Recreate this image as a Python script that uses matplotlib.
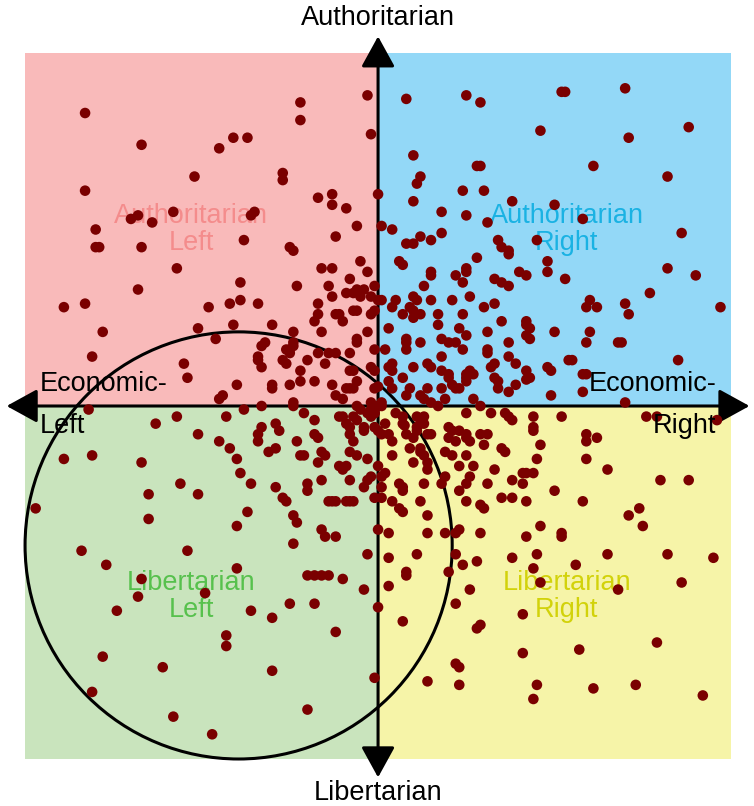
import matplotlib

matplotlib.use("Agg")
import matplotlib.pyplot as plt
from matplotlib.patches import Rectangle, Circle, FancyArrowPatch

plt.rcParams["font.family"] = ["Liberation Sans", "DejaVu Sans"]

# ---------------------------------------------------------------------------
# Data: (economic, social) scores, -10..10
# ---------------------------------------------------------------------------
auth_left = [
    (-8.3, 8.3), (-6.7, 7.4), (-5.2, 6.5), (-8.3, 6.1), (-7.0, 5.3), (-6.8, 5.4), (-6.4, 5.2),
    (-5.8, 5.5), (-8.0, 5.0), (-8.0, 4.5), (-7.9, 4.5), (-6.7, 4.5), (-5.7, 3.9), (-6.8, 3.3),
    (-0.3, 8.8), (-2.2, 8.6), (-2.2, 8.1), (-4.1, 7.6), (-3.7, 7.6), (-4.5, 7.3), (-0.2, 7.7),
    (-2.7, 6.6), (-2.7, 6.4), (0.0, 6.0), (-1.7, 5.9), (-1.3, 6.0), (-1.3, 5.7), (-0.9, 5.6),
    (0.1, 5.1), (-0.6, 5.1), (-3.6, 5.4), (-3.5, 5.5), (-3.8, 4.7), (-1.2, 4.8), (-2.5, 4.5),
    (-2.4, 4.4), (-0.5, 4.1), (-0.3, 3.8), (-1.6, 3.9), (-1.3, 3.9), (-0.8, 3.6), (-3.9, 3.5),
    (-0.1, 3.4), (-2.3, 3.4), (-1.4, 3.4), (-0.6, 3.3), (-0.4, 3.3),
    (-8.9, 2.8), (-8.3, 2.9), (-7.8, 2.1), (-5.1, 2.2), (-8.1, 1.4), (-5.5, 1.2), (-5.4, 0.8),
    (-0.9, 3.2), (-0.7, 3.2), (-0.5, 3.1), (-0.2, 3.1), (-4.8, 2.8), (-4.2, 2.9), (-3.9, 3.0),
    (-3.4, 2.9), (-1.7, 2.9), (-1.3, 3.1), (0.0, 3.0), (-1.7, 2.6), (-1.8, 2.4), (-1.2, 2.6),
    (-1.1, 2.6), (-1.0, 2.4), (-0.7, 2.7), (-0.6, 2.7), (-0.1, 2.7), (-0.2, 2.6), (-4.1, 2.3),
    (-3.0, 2.3), (-1.6, 2.1), (-0.3, 2.1), (-4.6, 1.9), (-3.2, 1.8), (-3.3, 1.7), (-2.4, 2.1),
    (-2.6, 1.6), (-2.5, 1.6), (-2.4, 1.7), (-2.5, 1.5), (-2.4, 1.8), (-0.6, 1.9), (-0.6, 1.8),
    (-0.1, 1.6), (-1.7, 1.5), (-1.4, 1.5), (-1.2, 1.5), (-0.8, 1.5), (-3.4, 1.4), (-3.4, 1.3),
    (-2.0, 1.3), (-2.7, 1.3), (-2.6, 1.2), (-1.5, 1.2), (-3.3, 1.1), (-2.2, 1.0), (-0.8, 1.0),
    (-0.7, 1.0), (-0.2, 1.1), (-0.1, 1.0), (-2.2, 0.7), (-4.0, 0.6), (-1.8, 0.7), (-1.3, 0.6),
    (-0.6, 0.7), (-2.5, 0.6), (-3.0, 0.6), (-3.0, 0.5), (-0.9, 0.5), (-0.8, 0.5), (-0.7, 0.5),
    (-0.1, 0.5), (0.0, 0.55), (-1.2, 0.3), (-1.0, 0.2), (-4.5, 0.2), (-4.4, 0.3), (-2.4, 0.1),
    (-0.2, 0.1), (-2.4, 0.0), (-0.6, 0.0), (0.0, 0.0), (0.1, 0.0), (-3.3, 0.0),
]

lib_left = [
    (-8.2, -0.1), (-6.3, -0.5), (-5.7, -0.3), (-5.1, -0.8), (-8.9, -1.5), (-8.1, -1.4),
    (-6.7, -1.6), (-5.6, -2.2), (-6.5, -2.5), (-5.1, -2.5), (-9.7, -2.9), (-6.5, -3.2),
    (-0.5, -0.1), (-3.8, -0.1), (-2.1, -0.2), (-4.3, -0.3), (-1.1, -0.3), (-1.0, -0.3),
    (-0.7, -0.3), (-0.6, -0.4), (-0.3, -0.2), (-0.2, -0.3), (-0.1, -0.2), (-3.3, -0.6),
    (-3.4, -0.8), (-2.9, -0.5), (-1.8, -0.4), (-0.9, -0.5), (-0.8, -0.6), (-0.8, -0.8),
    (-0.4, -0.6), (-0.4, -0.7), (-0.1, -0.6), (0.0, -0.7), (0.1, -0.8), (-4.5, -1.0),
    (-2.8, -0.7), (-1.8, -0.8), (-1.7, -0.9), (-3.4, -1.0), (-2.3, -1.0), (-0.7, -1.0),
    (-4.2, -1.2), (-2.9, -1.2), (-3.1, -1.3), (-2.2, -1.4), (-2.1, -1.4), (-1.6, -1.3),
    (-1.5, -1.4), (-0.8, -1.3), (-0.6, -1.4), (-0.3, -1.5), (-1.7, -1.6), (-4.0, -1.5),
    (-1.1, -1.7), (-1.0, -1.8), (-0.9, -1.7), (0.0, -1.7), (-3.9, -1.9), (-1.6, -2.1),
    (-0.8, -2.1), (-0.2, -2.0), (-0.3, -2.1), (-0.4, -2.3), (0.1, -2.0), (0.2, -1.9),
    (-3.6, -2.2), (-2.9, -2.3), (-2.0, -2.2), (-2.0, -2.4), (0.1, -2.3), (-2.7, -2.6),
    (-2.6, -2.7), (-1.4, -2.7), (-1.3, -2.7), (-1.2, -2.7), (-0.9, -2.7), (-0.8, -2.7),
    (-0.7, -2.7), (-0.1, -2.6), (0.1, -2.6), (-3.7, -3.0), (-2.4, -3.1), (-2.3, -3.3),
    (-4.0, -3.4), (-1.6, -3.5), (0.0, -3.5),
    (-8.4, -4.1), (-7.7, -4.5), (-5.4, -4.1), (-6.7, -4.9), (-6.8, -5.4), (-7.4, -5.8),
    (-7.8, -7.1), (-6.1, -7.4), (-8.1, -8.1), (-5.8, -8.8),
    (-1.5, -3.7), (-1.2, -3.7), (-2.4, -3.9), (-0.3, -4.2), (-4.0, -4.6), (-2.0, -4.8),
    (-1.8, -4.8), (-1.6, -4.8), (-1.4, -4.8), (-1.0, -4.9), (-0.4, -5.2), (-4.9, -5.3),
    (-2.5, -5.6), (-1.8, -5.6), (-3.6, -5.8), (-3.0, -6.0), (0.0, -5.7), (-1.2, -6.4),
    (-4.3, -6.5), (-4.3, -6.8), (-3.0, -7.5), (-0.1, -7.7), (-2.0, -8.6), (-4.7, -9.3),
]

auth_right = [
    (0.8, 8.7), (2.5, 8.8), (2.9, 8.6), (5.2, 8.9), (5.3, 8.9), (4.6, 7.8), (1.0, 7.1),
    (1.2, 6.5), (1.1, 6.3), (2.8, 6.8), (2.9, 6.8), (2.4, 6.1), (3.0, 6.1), (1.0, 5.8),
    (3.8, 5.8), (5.0, 5.7), (1.8, 5.5), (2.5, 5.4), (0.4, 5.0), (3.1, 5.2), (0.8, 4.6),
    (1.0, 4.6), (1.2, 4.8), (1.5, 4.7), (1.8, 4.9), (3.4, 4.7), (3.5, 4.5), (3.7, 4.4),
    (3.7, 4.3), (4.5, 4.7), (0.6, 4.1), (0.7, 4.0), (2.8, 4.2), (2.5, 3.9), (2.5, 3.8),
    (1.5, 3.7), (1.5, 3.8), (2.2, 3.7), (2.4, 3.5), (1.3, 3.4), (4.0, 3.8), (4.2, 3.7),
    (4.8, 4.1), (4.8, 3.8), (5.3, 3.6), (3.3, 3.6), (3.5, 3.5), (3.7, 3.4),
    (7.0, 9.0), (8.8, 7.9), (7.1, 7.6), (6.1, 6.8), (8.2, 6.5), (5.8, 5.3), (8.6, 4.9),
    (8.2, 3.9), (9.0, 3.7),
    (0.1, 3.0), (0.5, 3.0), (0.4, 2.8), (1.0, 3.1), (1.1, 3.0), (0.9, 2.8), (1.0, 2.7),
    (1.5, 3.0), (2.1, 3.0), (2.6, 3.1), (3.0, 2.8), (3.3, 2.9), (0.7, 2.6), (1.2, 2.6),
    (1.0, 2.5), (1.7, 2.6), (2.4, 2.6), (3.5, 2.4), (4.2, 2.4), (4.2, 2.3), (4.3, 2.2),
    (4.2, 2.0), (4.3, 1.9), (5.0, 2.1), (0.3, 2.2), (1.7, 2.3), (2.3, 2.2), (3.1, 2.1),
    (0.8, 1.9), (0.8, 1.8), (1.2, 1.8), (1.8, 1.9), (2.5, 2.0), (2.0, 1.8), (2.2, 1.8),
    (3.7, 1.8), (0.2, 1.6), (0.8, 1.6), (2.4, 1.6), (3.1, 1.6), (3.1, 1.5), (3.7, 1.4),
    (1.8, 1.4), (0.4, 1.2), (0.3, 1.1), (0.4, 1.0), (1.0, 1.1), (1.4, 1.2), (1.5, 1.1),
    (3.2, 1.1), (3.3, 1.2), (3.9, 1.2), (4.2, 1.0), (4.3, 0.8), (4.2, 0.75), (4.8, 1.1),
    (4.9, 1.0), (5.4, 1.3), (1.8, 1.0), (2.0, 0.9), (2.0, 0.8), (2.5, 0.9), (2.5, 0.8),
    (2.6, 1.0), (2.7, 0.9), (2.5, 0.7), (0.7, 0.8), (3.3, 0.8), (3.4, 0.7), (3.4, 0.5),
    (0.3, 0.7), (0.4, 0.5), (0.9, 0.5), (1.4, 0.5), (1.8, 0.5), (2.1, 0.6), (2.2, 0.5),
    (2.3, 0.5), (3.9, 0.6), (3.7, 0.4), (0.8, 0.3), (1.2, 0.3), (1.3, 0.2), (1.9, 0.2),
    (1.5, 0.1), (1.7, 0.0), (2.7, 0.2), (4.9, 0.3), (0.1, 0.1),
    (7.7, 3.2), (6.0, 3.0), (5.9, 2.8), (6.2, 2.8), (7.0, 2.9), (7.1, 2.6), (9.7, 2.8),
    (6.0, 2.1), (5.9, 1.8), (6.8, 1.8), (6.9, 1.8), (5.5, 1.3), (8.5, 1.3), (5.8, 0.9),
    (5.9, 0.9), (5.8, 0.4), (7.0, 0.1),
]

lib_right = [
    (2.9, 0.0), (-0.2, -0.1), (-0.1, -0.2), (0.5, -0.2), (2.5, -0.2), (3.2, -0.2), (3.6, -0.2),
    (3.7, -0.3), (3.8, -0.4), (4.4, -0.3), (5.2, -0.3), (0.7, -0.3), (0.7, -0.5), (1.1, -0.3),
    (1.3, -0.3), (1.2, -0.5), (1.3, -0.5), (0.2, -0.5), (0.75, -0.55), (1.1, -0.6), (1.1, -0.7),
    (2.0, -0.6), (2.1, -0.7), (2.0, -0.9), (2.3, -0.7), (1.4, -0.8), (1.5, -0.8), (2.9, -0.8),
    (3.1, -0.8), (2.5, -0.8), (2.5, -0.9), (4.4, -0.6), (4.4, -0.7), (0.3, -0.8), (0.8, -0.8),
    (1.0, -0.9), (0.4, -1.0), (0.9, -1.2), (1.2, -1.2), (1.2, -1.3), (1.3, -1.4), (2.2, -1.0),
    (2.6, -1.0), (3.0, -1.1), (3.5, -1.2), (3.6, -1.3), (4.6, -1.1), (1.9, -1.3), (2.1, -1.4),
    (2.5, -1.4), (4.5, -1.5), (0.4, -1.4), (1.0, -1.6), (1.4, -1.6), (2.3, -1.7), (2.7, -1.7),
    (3.3, -1.8), (4.1, -1.9), (4.2, -1.9), (4.4, -1.9), (1.4, -1.8), (1.9, -2.0), (1.8, -2.2),
    (2.6, -2.0), (2.5, -2.2), (3.1, -2.2), (3.8, -2.1), (4.1, -2.2), (0.6, -2.2), (0.7, -2.3),
    (0.7, -2.4), (1.3, -2.2), (2.3, -2.4), (5.0, -2.4), (2.5, -2.7), (3.5, -2.6), (3.8, -2.6),
    (4.2, -2.7), (0.4, -2.7), (0.6, -2.9), (0.7, -3.0), (1.2, -2.7), (2.9, -2.8), (3.0, -2.9),
    (1.4, -3.1), (4.6, -3.4),
    (7.6, -0.3), (7.9, -0.3), (9.6, -0.4), (5.9, -0.8), (5.9, -1.0), (6.2, -0.9), (5.9, -1.5),
    (6.5, -1.8), (8.0, -2.1), (8.8, -2.1), (5.8, -2.7), (7.4, -2.9), (7.1, -3.1), (7.5, -3.4),
    (0.3, -3.6), (1.4, -3.6), (1.9, -3.6), (2.2, -3.6), (2.3, -3.5), (2.9, -3.6), (4.2, -3.7),
    (5.2, -3.6), (5.2, -3.7), (0.3, -4.3), (1.1, -4.2), (0.8, -4.7), (0.8, -4.8), (2.2, -4.2),
    (2.4, -4.5), (2.0, -4.7), (2.8, -4.4), (3.8, -4.3), (4.5, -4.2), (4.4, -4.6), (4.6, -5.0),
    (2.6, -5.2), (2.2, -5.6), (4.1, -5.9), (0.7, -6.1), (2.9, -6.2), (2.8, -6.3), (4.1, -7.0),
    (2.2, -7.3), (2.3, -7.4), (1.4, -7.8), (2.3, -7.9), (4.5, -7.9), (4.4, -8.3), (6.5, -4.2),
    (8.2, -4.2), (9.5, -4.3), (5.6, -4.5), (8.6, -5.0), (6.8, -5.2), (5.7, -6.9), (7.9, -6.7),
    (6.1, -8.0), (7.3, -7.9), (9.2, -8.2), (0.3, -5.1),
]

# highlighted circle (centre econ, centre social, radius)
circle_center = (-3.95, -3.95)
circle_radius = 6.05

QUADRANTS = [
    # (x0, y0, face colour, label, label colour)
    (-10, 0, "#f9baba", "Authoritarian\nLeft", "#f48c8c"),
    (0, 0, "#93d8f7", "Authoritarian\nRight", "#1ab2e3"),
    (-10, -10, "#c9e4bd", "Libertarian\nLeft", "#57c14d"),
    (0, -10, "#f6f4a8", "Libertarian\nRight", "#d2d20a"),
]


def main():
    fig = plt.figure(figsize=(7.54, 8.06), dpi=100)
    fig.patch.set_facecolor("white")
    ax = fig.add_axes([0, 0, 1, 1])
    ax.set_xlim(-10.71, 10.65)
    ax.set_ylim(-11.33, 11.50)
    ax.set_aspect("equal")
    ax.axis("off")

    for x0, y0, fc, label, tc in QUADRANTS:
        ax.add_patch(Rectangle((x0, y0), 10, 10, facecolor=fc, edgecolor="none", zorder=0))
        ax.text(x0 + 4.7 if x0 < 0 else x0 + 5.35, y0 + 5.0 if y0 == 0 else y0 + 4.6,
                label, ha="center", va="center", fontsize=19.5, color=tc,
                linespacing=1.05, zorder=1)

    # axes with double-headed arrows
    for start, end in [((0, -10.6), (0, 10.55)), ((-10.6, 0), (10.6, 0))]:
        arr = FancyArrowPatch(start, end,
                              arrowstyle="<|-|>,head_length=1.0,head_width=0.55",
                              mutation_scale=19, color="black", lw=2.2, zorder=3)
        ax.add_patch(arr)

    ax.add_patch(Circle(circle_center, circle_radius, fill=False,
                        edgecolor="black", lw=2.2, zorder=4))

    for pts in (auth_left, lib_left, auth_right, lib_right):
        xs = [p[0] for p in pts]
        ys = [p[1] for p in pts]
        ax.scatter(xs, ys, s=58, color="#7a0000", edgecolors="none", zorder=5)

    ax.text(0, 11.0, "Authoritarian", ha="center", va="center", fontsize=19.5, zorder=6)
    ax.text(0, -10.95, "Libertarian", ha="center", va="center", fontsize=19.5, zorder=6)
    ax.text(-9.57, 0.62, "Economic-", ha="left", va="center", fontsize=19.5, zorder=6)
    ax.text(-9.57, -0.58, "Left", ha="left", va="center", fontsize=19.5, zorder=6)
    ax.text(9.58, 0.62, "Economic-", ha="right", va="center", fontsize=19.5, zorder=6)
    ax.text(9.58, -0.58, "Right", ha="right", va="center", fontsize=19.5, zorder=6)

    fig.savefig("out.png", dpi=100, facecolor="white")
    plt.close(fig)


if __name__ == "__main__":
    main()
